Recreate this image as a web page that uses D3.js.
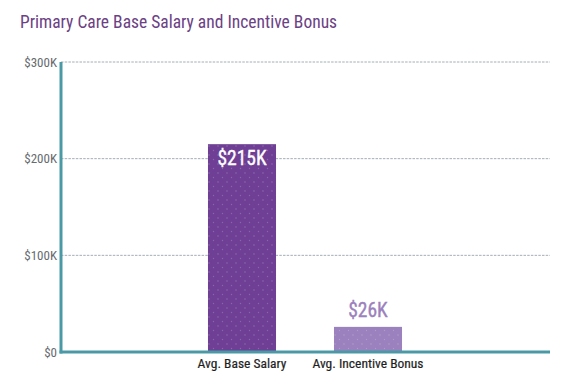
<!DOCTYPE html>
<html><head><meta charset="utf-8">
<script src="https://cdn.jsdelivr.net/npm/d3@7"></script>
<style>body{margin:0;background:#fff;} text{font-family:"Roboto Condensed","Liberation Sans Narrow",Roboto,sans-serif;}</style>
</head><body>
<svg id="c" width="568" height="376"></svg>
<script>
const categories = ["Avg. Base Salary", "Avg. Incentive Bonus"];
const values = [215, 26];
const valueLabels = ["$215K", "$26K"];
const yTicks = [0, 100, 200, 300];
const yTickLabels = ["$0", "$100K", "$200K", "$300K"];
const title = "Primary Care Base Salary and Incentive Bonus";

const svg = d3.select("#c");
const x0 = 61, x1 = 550, yTop = 62, yBot = 352;
const y = d3.scaleLinear().domain([0, 300]).range([yBot, yTop]);
const x = d3.scaleBand().domain(categories).range([179, 431]).paddingInner(0.46).paddingOuter(0.23);
const colors = ["#6e3f94", "#9b81bd"];

const defs = svg.append("defs");
colors.forEach((c, i) => {
  const p = defs.append("pattern").attr("id", "pat" + i).attr("patternUnits", "userSpaceOnUse")
    .attr("width", 9).attr("height", 9);
  p.append("rect").attr("width", 9).attr("height", 9).attr("fill", c);
  p.append("circle").attr("cx", 2).attr("cy", 2).attr("r", 0.7).attr("fill", "#ffffff").attr("opacity", 0.25);
  p.append("circle").attr("cx", 6.5).attr("cy", 6.5).attr("r", 0.7).attr("fill", "#ffffff").attr("opacity", 0.2);
});

svg.append("text").attr("x", 20).attr("y", 28).attr("fill", "#6b4184")
  .attr("font-size", 17.5).text(title);

// gridlines
svg.append("g").selectAll("line").data(yTicks.filter(d => d > 0)).join("line")
  .attr("x1", x0).attr("x2", x1).attr("y1", d => y(d)).attr("y2", d => y(d))
  .attr("stroke", "#a3aeb5").attr("stroke-width", 1).attr("stroke-dasharray", "2.5,1.2");

// y labels
svg.append("g").selectAll("text").data(yTicks).join("text")
  .attr("x", 57).attr("y", d => y(d)).attr("dy", "0.35em").attr("text-anchor", "end")
  .attr("fill", "#666b6e").attr("font-size", 13).text((d, i) => yTickLabels[i]);

// bars
svg.append("g").selectAll("rect").data(values).join("rect")
  .attr("x", (d, i) => x(categories[i])).attr("width", x.bandwidth())
  .attr("y", d => y(d)).attr("height", d => yBot - y(d))
  .attr("fill", (d, i) => `url(#pat${i})`);

// value labels
svg.append("g").selectAll("text").data(values).join("text")
  .attr("x", (d, i) => x(categories[i]) + x.bandwidth() / 2)
  .attr("y", (d, i) => i === 0 ? y(d) + 21 : y(d) - 10)
  .attr("text-anchor", "middle").attr("font-size", 19.5)
  .attr("fill", (d, i) => i === 0 ? "#ffffff" : "#9b81bd")
  .attr("stroke", (d, i) => i === 0 ? "#ffffff" : "#9b81bd").attr("stroke-width", 0.35)
  .text((d, i) => valueLabels[i]);

// axes lines
svg.append("line").attr("x1", x0).attr("x2", x0).attr("y1", yTop).attr("y2", yBot + 1.5)
  .attr("stroke", "#4a9aa6").attr("stroke-width", 3);
svg.append("line").attr("x1", x0 - 1.5).attr("x2", x1).attr("y1", yBot).attr("y2", yBot)
  .attr("stroke", "#4a9aa6").attr("stroke-width", 3);

// category labels
svg.append("g").selectAll("text").data(categories).join("text")
  .attr("x", d => x(d) + x.bandwidth() / 2).attr("y", 368)
  .attr("text-anchor", "middle").attr("font-size", 13.5).attr("fill", "#1f1f1f")
  .attr("stroke", "#1f1f1f").attr("stroke-width", 0.2)
  .text(d => d);
</script>
</body></html>
